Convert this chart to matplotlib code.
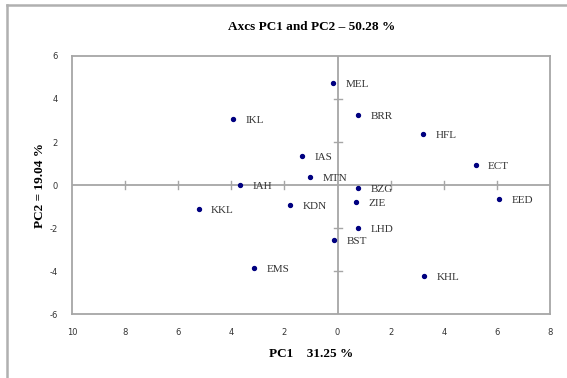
import matplotlib.pyplot as plt
from matplotlib.lines import Line2D

# PCA scores
noms = ["MEL", "IKL", "BRR", "HFL", "IAS", "ECT", "MTN", "IAH", "BZG",
        "EED", "KKL", "ZIE", "KDN", "LHD", "BST", "EMS", "KHL"]
pc1 = [-0.16, -3.93, 0.77, 3.23, -1.33, 5.20, -1.04, -3.67, 0.76,
       6.07, -5.23, 0.69, -1.78, 0.76, -0.12, -3.15, 3.25]
pc2 = [4.73, 3.07, 3.27, 2.36, 1.35, 0.93, 0.39, 0.00, -0.14,
       -0.64, -1.13, -0.79, -0.92, -1.99, -2.56, -3.87, -4.23]

ticksX = [-10, -8, -6, -4, -2, 0, 2, 4, 6, 8]
labelsX = ["10", "8", "6", "4", "2", "0", "2", "4", "6", "8"]
ticksY = [-6, -4, -2, 0, 2, 4, 6]
labelsY = ["-6", "-4", "-2", "0", "2", "4", "6"]

serif = ["Liberation Serif", "DejaVu Serif"]
gris = "#a6a6a6"

fig = plt.figure(figsize=(5.67, 3.78), dpi=100)
axe = fig.add_axes([0.127, 0.169, 0.843, 0.683])

# axes croisés en zéro
axe.axhline(0, color=gris, linewidth=1.3, zorder=1)
axe.axvline(0, color=gris, linewidth=1.3, zorder=1)
for t in ticksX:
    if t not in (0, -10):
        axe.plot([t, t], [-0.18, 0.18], color=gris, linewidth=1.0, zorder=1)
for t in ticksY:
    if t not in (0, 6, -6):
        axe.plot([-0.15, 0.15], [t, t], color=gris, linewidth=1.0, zorder=1)

axe.scatter(pc1, pc2, s=8, c="#000080", zorder=3)
for nom, x, y in zip(noms, pc1, pc2):
    axe.annotate(nom, (x, y), xytext=(9, -1), textcoords="offset points",
                 va="center", ha="left", fontsize=8, family=serif,
                 color="#333333")

axe.set_xlim(-10, 8)
axe.set_ylim(-6, 6)
axe.set_xticks(ticksX)
axe.set_xticklabels(labelsX)
axe.set_yticks(ticksY)
axe.set_yticklabels(labelsY)
axe.tick_params(length=0, labelsize=6, colors="#333333", pad=10)
for spine in axe.spines.values():
    spine.set_color(gris)
    spine.set_linewidth(1.3)

fig.text(0.55, 0.928, "Axcs PC1 and PC2 \u2013 50.28 %", ha="center",
         va="center", fontsize=9.5, fontweight="bold", family=serif)
axe.set_xlabel("PC1    31.25 %", fontsize=9.5, fontweight="bold",
               family=serif, labelpad=8)
axe.set_ylabel("PC2 = 19.04 %", fontsize=9.5, fontweight="bold",
               family=serif, labelpad=3)

# cadre extérieur (haut et gauche seulement)
fig.add_artist(Line2D([7 / 567, 1], [1 - 5 / 378, 1 - 5 / 378],
                      transform=fig.transFigure, color="#b0b0b0", linewidth=1.8))
fig.add_artist(Line2D([7 / 567, 7 / 567], [0, 1 - 5 / 378],
                      transform=fig.transFigure, color="#b0b0b0", linewidth=1.8))

fig.savefig("out.png", dpi=100)
